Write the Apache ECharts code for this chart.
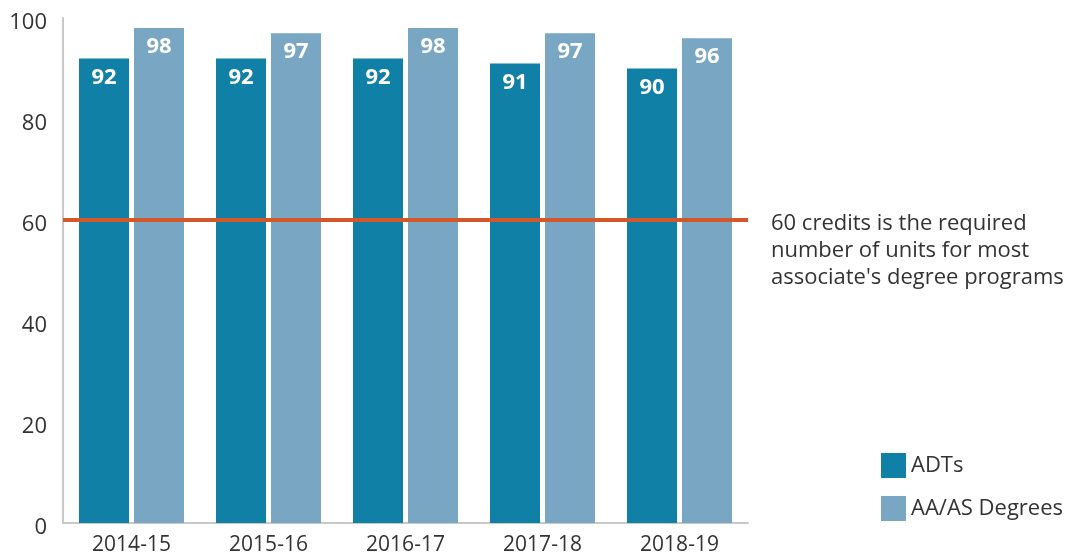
<!DOCTYPE html>
<html>
<head>
<meta charset="utf-8">
<script src="https://cdn.jsdelivr.net/npm/echarts@6/dist/echarts.min.js"></script>
<style>
  html, body { margin: 0; padding: 0; background: #fff; }
  #chart { width: 1091px; height: 558px; }
</style>
</head>
<body>
<div id="chart"></div>
<script>
const years = ['2014-15', '2015-16', '2016-17', '2017-18', '2018-19']
const adts = [92, 92, 92, 91, 90]
const aaDegrees = [98, 97, 98, 97, 96]
const requiredUnits = 60
const noteLines = [
  '60 credits is the required',
  'number of units for most',
  "associate's degree programs"
]

const fontFamily = '"Open Sans", sans-serif'
const chart = echarts.init(document.getElementById('chart'))

chart.setOption({
  animation: false,
  textStyle: { fontFamily: fontFamily },
  grid: { left: 63, right: 343, top: 18, bottom: 35, containLabel: false },
  legend: {
    orient: 'vertical',
    left: 881,
    top: 453,
    padding: 0,
    itemWidth: 25,
    itemHeight: 25,
    itemGap: 18,
    icon: 'rect',
    textStyle: { fontSize: 22, color: '#333', fontFamily: fontFamily },
    data: ['ADTs', 'AA/AS Degrees']
  },
  xAxis: {
    type: 'category',
    data: years,
    axisLine: { lineStyle: { color: '#c8c8c8', width: 2 } },
    axisTick: { inside: true, length: 12, lineStyle: { color: '#c8c8c8', width: 1 } },
    axisLabel: { fontSize: 21, color: '#333', margin: 12 }
  },
  yAxis: {
    type: 'value',
    min: 0,
    max: 100,
    interval: 20,
    splitLine: { show: false },
    axisLine: { show: true, lineStyle: { color: '#c8c8c8', width: 2 } },
    axisTick: { show: false },
    axisLabel: {
      margin: 16,
      formatter: '{v|{value}}',
      rich: { v: { fontSize: 22, color: '#333', padding: [10, 0, 0, 0] } }
    }
  },
  series: [
    {
      name: 'ADTs',
      type: 'bar',
      data: adts,
      barWidth: 50,
      barGap: '10%',
      itemStyle: { color: '#1180a6' },
      label: {
        show: true,
        position: 'insideTop',
        distance: 8,
        color: '#fff',
        fontSize: 22,
        fontWeight: 'bold'
      },
      markLine: {
        silent: true,
        symbol: 'none',
        label: { show: false },
        lineStyle: { color: '#d4572a', width: 4, type: 'solid' },
        data: [{ yAxis: requiredUnits }]
      }
    },
    {
      name: 'AA/AS Degrees',
      type: 'bar',
      data: aaDegrees,
      barWidth: 50,
      itemStyle: { color: '#79a6c2' },
      label: {
        show: true,
        position: 'insideTop',
        distance: 8,
        color: '#fff',
        fontSize: 22,
        fontWeight: 'bold'
      }
    }
  ],
  graphic: [
    {
      type: 'text',
      left: 771,
      top: 210,
      style: {
        text: noteLines.join('\n'),
        font: '22px ' + fontFamily,
        lineHeight: 27,
        fill: '#333'
      }
    }
  ]
})
</script>
</body>
</html>
